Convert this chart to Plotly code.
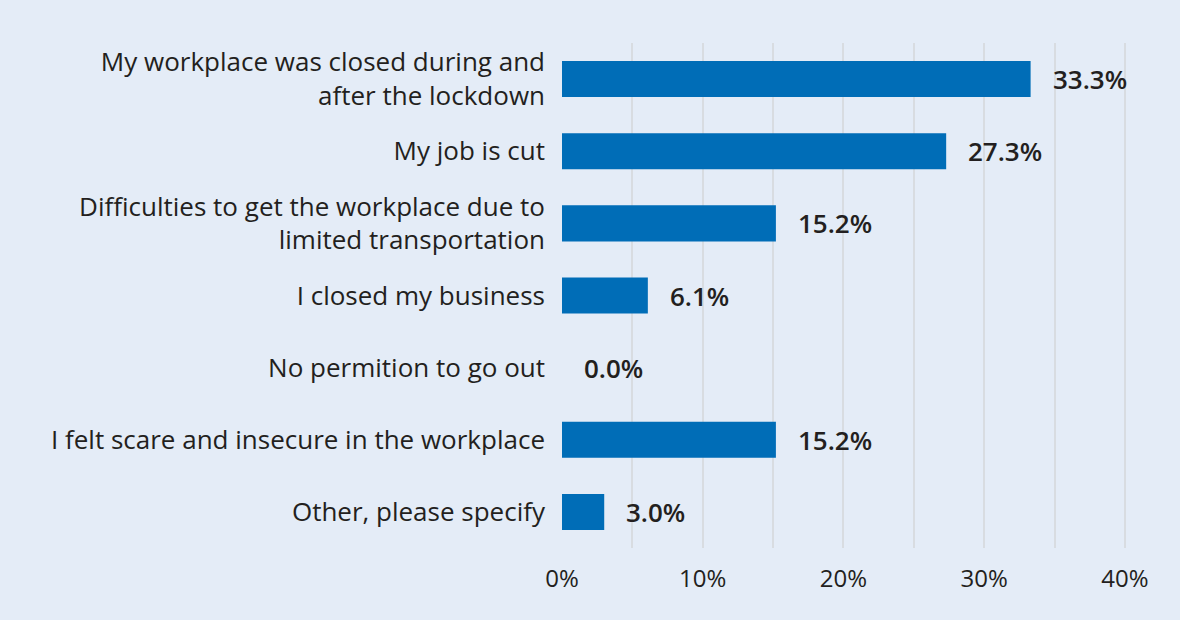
import plotly.graph_objects as go

# Reasons for not going to work, share of respondents (%)
categories = [
    "My workplace was closed during and<br>after the lockdown",
    "My job is cut",
    "Difficulties to get the workplace due to<br>limited transportation",
    "I closed my business",
    "No permition to go out",
    "I felt scare and insecure in the workplace",
    "Other, please specify",
]
values = [33.3, 27.3, 15.2, 6.1, 0.0, 15.2, 3.0]
tick_values = [0, 5, 10, 15, 20, 25, 30, 35, 40]
tick_labels = ["0%", "", "10%", "", "20%", "", "30%", "", "40%"]

BG = "#e4ecf7"
BAR = "#006db7"
TEXT = "#231f20"
FONT = "Open Sans"

fig = go.Figure(
    go.Bar(
        x=values,
        y=categories,
        orientation="h",
        marker=dict(color=BAR, line=dict(width=0)),
        hoverinfo="skip",
    )
)

for cat, val in zip(categories, values):
    fig.add_annotation(
        x=val, y=cat, text=f"{val:.1f}%", showarrow=False,
        xanchor="left", yanchor="middle", xshift=20,
        font=dict(family=FONT, size=26, color=TEXT, weight=600),
    )

fig.update_layout(
    width=1180, height=620,
    paper_bgcolor=BG, plot_bgcolor=BG,
    margin=dict(l=562, r=53, t=43, b=72),
    bargap=0.5,
    showlegend=False,
    font=dict(family=FONT, size=24, color=TEXT),
)
fig.update_xaxes(
    range=[0, 40.15], tickvals=tick_values, ticktext=tick_labels,
    showgrid=True, gridcolor="#d8dce1", gridwidth=2,
    zeroline=False, showline=False, ticks="",
    tickfont=dict(family=FONT, size=24, color=TEXT),
    ticklabelstandoff=14,
)
fig.update_yaxes(
    autorange="reversed", showgrid=False, zeroline=False, showline=False,
    ticks="", ticklabelstandoff=16,
    tickfont=dict(family=FONT, size=26, color=TEXT),
)

fig.write_html("out.html")
